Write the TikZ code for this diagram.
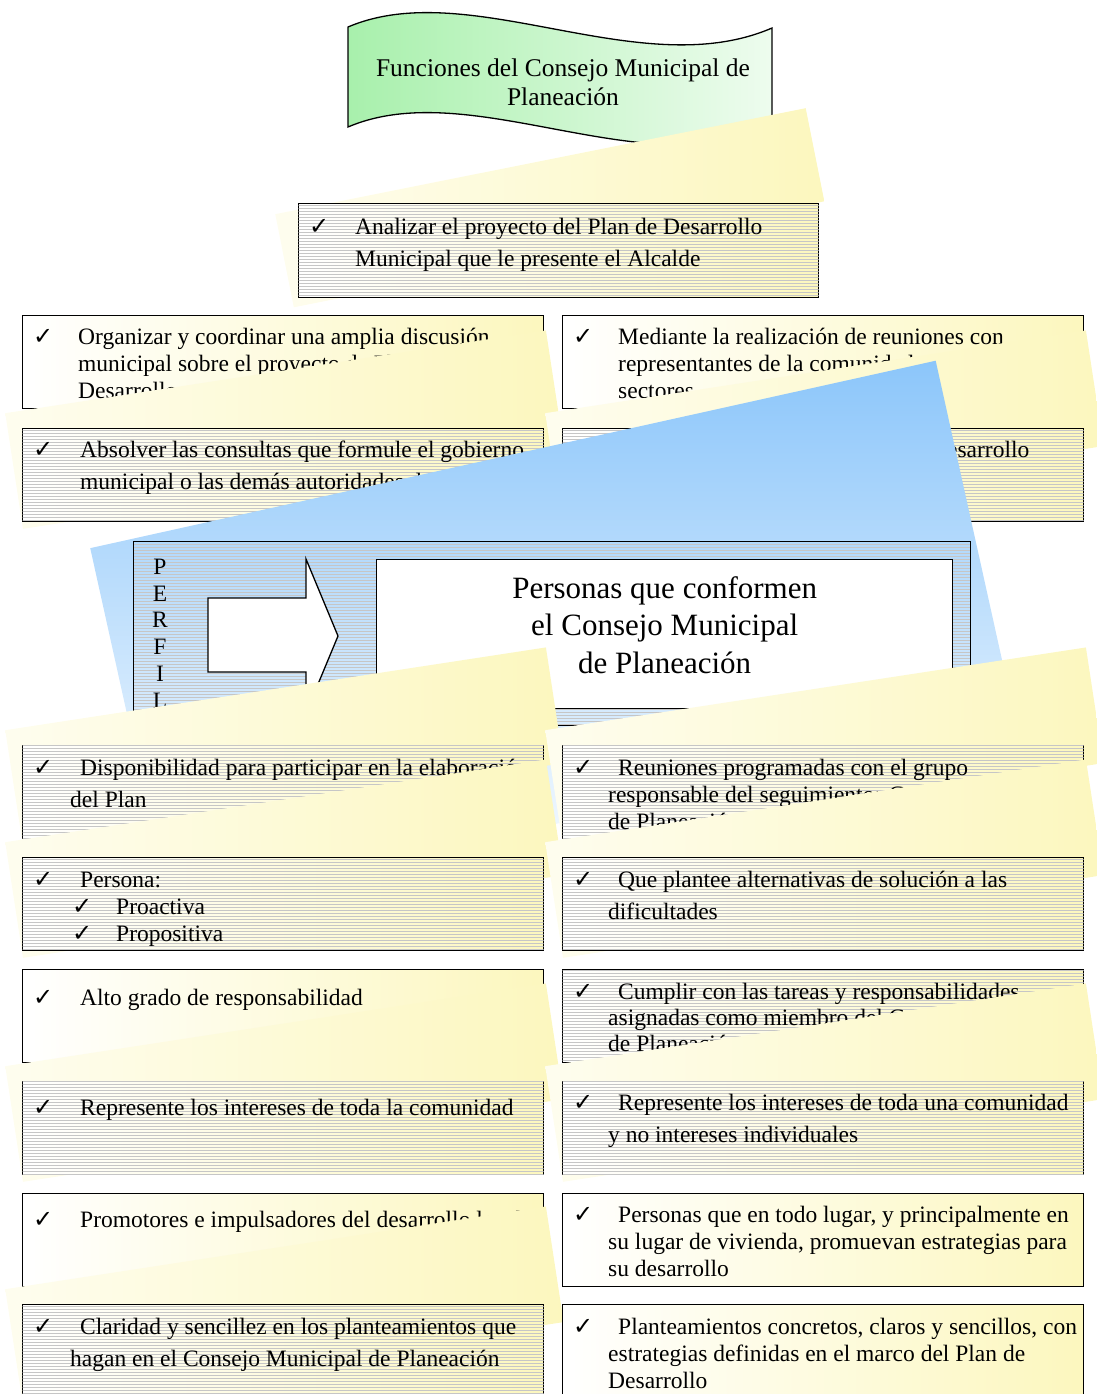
\documentclass[tikz,border=0pt]{standalone}
\usepackage{fontspec}
\setmainfont{Liberation Serif}
\newfontfamily\simbolos{DejaVu Sans}
\usetikzlibrary{positioning,patterns}
\definecolor{amar}{RGB}{252,247,190}
\definecolor{azul}{RGB}{140,198,250}
\definecolor{verde}{RGB}{168,240,172}
\newcommand{\ck}[1]{\makebox[#1pt][l]{\rule{0pt}{18pt}{\simbolos\fontsize{24}{24}\selectfont ✓}}}

\begin{document}
\begin{tikzpicture}[x=1pt, y=-1pt,
  caja/.style = {draw, line width=1.3pt, inner sep=0pt, anchor=north west,
                 minimum width=521pt, minimum height=93pt},
  lisa/.style = {caja, left color=white, right color=amar},
  rayada/.style = {caja, left color=white, right color=amar,
                   postaction={pattern=horizontal lines, pattern color=gray!45}},
  texto/.style = {inner sep=0pt, anchor=north west, align=left},
  dos/.style = {texto, font=\fontsize{23.5}{32}\selectfont},
  tres/.style = {texto, font=\fontsize{23.5}{27}\selectfont},
  velo/.style = {inner sep=0pt, anchor=north west, rotate=8.7, minimum width=547pt,
                 minimum height=117pt, left color=amar!25, right color=amar},
  ]
  \useasboundingbox (0,0) rectangle (1096,1394);

  % banner
  \draw[line width=1.3pt, left color=verde, right color=verde!20]
    (348,27) .. controls (470,-25) and (640,85) .. (772,28)
    -- (772,128) .. controls (640,185) and (470,75) .. (348,127) -- cycle;
  \node[texto, anchor=north, align=center, font=\fontsize{25.5}{29}\selectfont]
    (funciones) at (563,58) {\rule{0pt}{18pt}Funciones del Consejo Municipal de\\Planeación};

  % funciones
  \node[velo, rotate=2.6, minimum width=541pt, minimum height=95pt] (v0) at (275,214) {};
  \node[rayada, minimum width=520pt, minimum height=94pt] (analizar) at (298,203) {};
  \node[dos, below right=13pt and 11pt of analizar.north west] (analizar-t)
    {\ck{46}Analizar el proyecto del Plan de Desarrollo\\
     \hspace*{46pt}Municipal que le presente el Alcalde};

  \node[lisa] (organizar) at (22,315) {};
  \node[tres, below right=11pt and 11pt of organizar.north west] (organizar-t)
    {\ck{45}Organizar y coordinar una amplia discusión\\
     \hspace*{45pt}municipal sobre el proyecto de Plan de\\
     \hspace*{45pt}Desarrollo};
  \node[lisa] (mediante) at (562,315) {};
  \node[tres, below right=11pt and 11pt of mediante.north west] (mediante-t)
    {\ck{45}Mediante la realización de reuniones con\\
     \hspace*{45pt}representantes de la comunidad y de los\\
     \hspace*{45pt}sectores};

  \node[velo] (v2i) at (5,413) {};
  \node[velo] (v2d) at (545,413) {};
  \node[rayada] (absolver) at (22,428) {};
  \node[dos, below right=11pt and 11pt of absolver.north west] (absolver-t)
    {\ck{47}Absolver las consultas que formule el gobierno\\
     \hspace*{47pt}municipal o las demás autoridades de planeación};
  \node[rayada] (concepto) at (562,428) {};
  \node[dos, below right=11pt and 11pt of concepto.north west] (concepto-t)
    {\ck{45}Emitir concepto sobre el Plan de Desarrollo\\
     \hspace*{35pt}Municipal};

  % perfil
  \node[inner sep=0pt, anchor=north west, rotate=12.5, minimum width=866pt,
    minimum height=370pt, top color=azul, middle color=azul!55, bottom color=white]
    (fondo) at (90,548) {};
  \node[draw, line width=1.3pt, inner sep=0pt, anchor=north west, minimum width=837pt,
    minimum height=184pt, pattern=horizontal lines, pattern color=gray!45] (marco) at (133,541) {};
  \draw[line width=1.3pt, fill=white] (208,598) -- (306,598) -- (306,559) -- (338,636)
    -- (306,713) -- (306,672) -- (208,672) -- cycle;
  \node[draw, line width=1.3pt, fill=white, inner sep=0pt, anchor=north west,
    minimum width=576pt, minimum height=149pt] (consejo) at (376,559) {};
  \node[texto, anchor=north, align=center, font=\fontsize{23.5}{26.8}\selectfont]
    (perfil) at (160,556) {\rule{0pt}{18pt}P\\E\\R\\F\\I\\L};
  \node[texto, align=center, font=\fontsize{31}{37.5}\selectfont, below=15pt of consejo.north]
    (personas) {\rule{0pt}{24pt}Personas que conformen\\el Consejo Municipal\\de Planeación};

  \node[velo] (v3i) at (5,730) {};
  \node[velo] (v3d) at (545,730) {};
  \node[rayada] (disponible) at (22,745) {};
  \node[dos, below right=12pt and 11pt of disponible.north west] (disponible-t)
    {\ck{47}Disponibilidad para participar en la elaboración\\
     \hspace*{37pt}del Plan};
  \node[rayada] (reuniones) at (562,745) {};
  \node[tres, below right=12pt and 11pt of reuniones.north west] (reuniones-t)
    {\ck{45}Reuniones programadas con el grupo\\
     \hspace*{35pt}responsable del seguimiento: Consejo Municipal\\
     \hspace*{35pt}de Planeación};

  \node[velo] (v4i) at (5,842) {};
  \node[velo] (v4d) at (545,842) {};
  \node[rayada] (persona) at (22,857) {};
  \node[tres, below right=12pt and 11pt of persona.north west] (persona-t)
    {\ck{47}Persona:\\
     \hspace*{39pt}\ck{44}Proactiva\\
     \hspace*{39pt}\ck{44}Propositiva};
  \node[rayada] (plantee) at (562,857) {};
  \node[dos, below right=12pt and 11pt of plantee.north west] (plantee-t)
    {\ck{45}Que plantee alternativas de solución a las\\
     \hspace*{35pt}dificultades};

  \node[lisa] (alto) at (22,969) {};
  \node[tres, below right=18pt and 11pt of alto.north west] (alto-t)
    {\ck{47}Alto grado de responsabilidad};
  \node[rayada] (cumplir) at (562,969) {};
  \node[texto, font=\fontsize{23.5}{26}\selectfont, below right=12pt and 11pt of cumplir.north west] (cumplir-t)
    {\ck{45}Cumplir con las tareas y responsabilidades\\
     \hspace*{35pt}asignadas como miembro del Consejo Municipal\\
     \hspace*{35pt}de Planeación};

  \node[velo] (v6i) at (5,1066) {};
  \node[velo] (v6d) at (545,1066) {};
  \node[rayada] (representa) at (22,1081) {};
  \node[tres, below right=16pt and 11pt of representa.north west] (representa-t)
    {\ck{47}Represente los intereses de toda la comunidad};
  \node[rayada] (intereses) at (562,1081) {};
  \node[dos, below right=11pt and 11pt of intereses.north west] (intereses-t)
    {\ck{45}Represente los intereses de toda una comunidad\\
     \hspace*{35pt}y no intereses individuales};

  \node[lisa] (promotores) at (22,1193) {};
  \node[tres, below right=16pt and 11pt of promotores.north west] (promotores-t)
    {\ck{47}Promotores e impulsadores del desarrollo local};
  \node[lisa] (lugar) at (562,1193) {};
  \node[tres, below right=11pt and 11pt of lugar.north west] (lugar-t)
    {\ck{45}Personas que en todo lugar, y principalmente en\\
     \hspace*{35pt}su lugar de vivienda, promuevan estrategias para\\
     \hspace*{35pt}su desarrollo};

  \node[velo] (v8i) at (5,1289) {};
  \node[rayada] (claridad) at (22,1304) {};
  \node[dos, below right=12pt and 11pt of claridad.north west] (claridad-t)
    {\ck{47}Claridad y sencillez en los planteamientos que\\
     \hspace*{37pt}hagan en el Consejo Municipal de Planeación};
  \node[lisa] (concretos) at (562,1304) {};
  \node[tres, below right=12pt and 11pt of concretos.north west] (concretos-t)
    {\ck{45}Planteamientos concretos, claros y sencillos, con\\
     \hspace*{35pt}estrategias definidas en el marco del Plan de\\
     \hspace*{35pt}Desarrollo};
\end{tikzpicture}
\end{document}
